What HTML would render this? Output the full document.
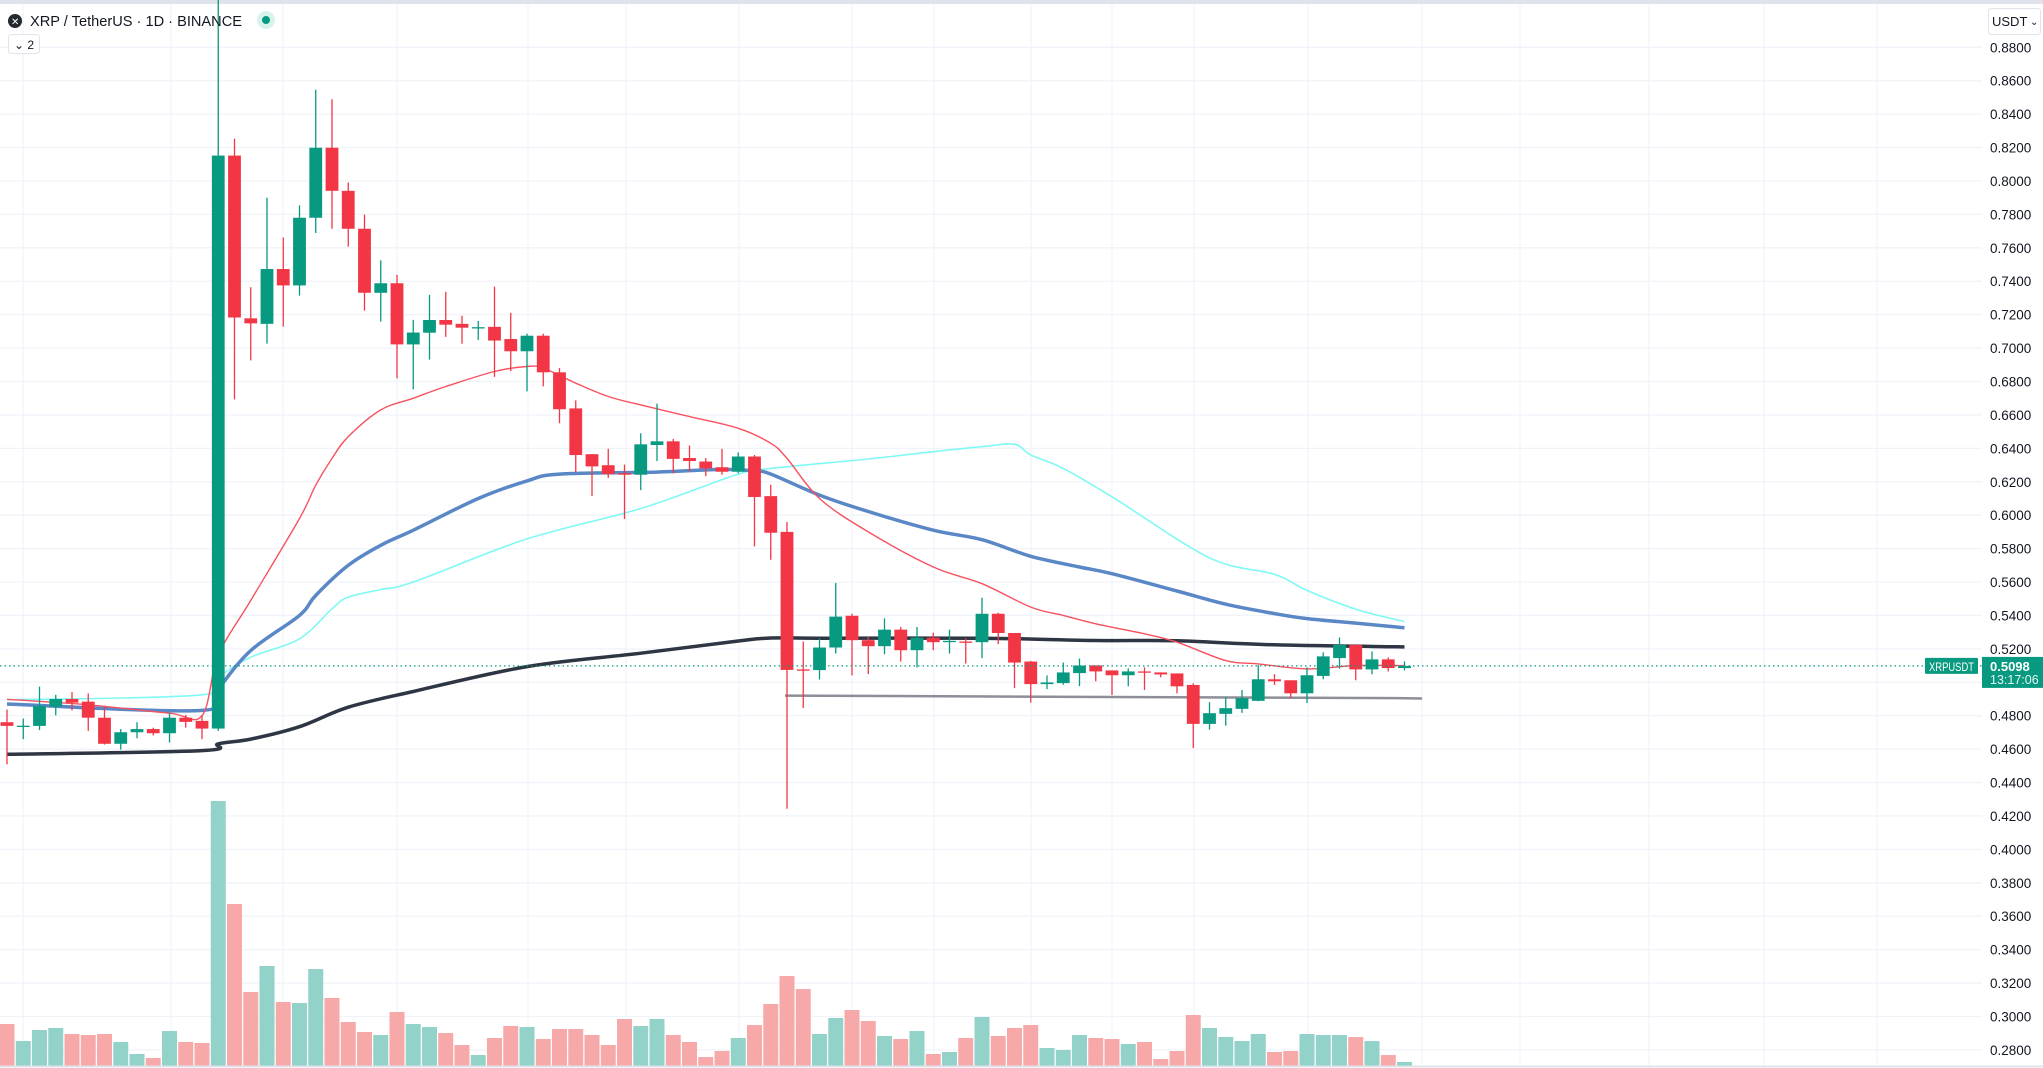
<!DOCTYPE html>
<html><head><meta charset="utf-8"><style>
html,body{margin:0;padding:0;background:#fff;overflow:hidden}
svg{display:block;font-family:"Liberation Sans",sans-serif}
</style></head><body>
<svg id="chart" width="2043" height="1068" viewBox="0 0 2043 1068" xmlns="http://www.w3.org/2000/svg">
<rect x="0" y="0" width="2043" height="1068" fill="#fff"/>
<rect x="0" y="0" width="2043" height="4" fill="#e0e3eb"/>
<g id="grid"></g>
<g id="vol"></g>
<g id="mas"></g>
<g id="candles"></g>
<g id="axis"></g>
<g>
 <circle cx="15" cy="21" r="7" fill="#23292f"/>
 <text x="11" y="25" font-size="10" fill="#fff">✕</text>
 <text x="30" y="26" font-size="15" textLength="212" lengthAdjust="spacingAndGlyphs" fill="#131722">XRP / TetherUS · 1D · BINANCE</text>
 <circle cx="266" cy="20" r="9" fill="#d9f2ee"/>
 <circle cx="266" cy="20" r="4" fill="#089981"/>
 <rect x="8.5" y="34.5" width="31" height="19" rx="3" fill="#fff" stroke="#e0e3eb"/>
 <text x="14" y="49" font-size="12" fill="#131722">⌄ 2</text>
 <rect x="1988.5" y="8.5" width="52" height="26" rx="3" fill="#fff" stroke="#e0e3eb"/>
 <text x="1992" y="26" font-size="13" fill="#131722">USDT</text>
 <text x="2030" y="25" font-size="10" fill="#131722">⌄</text>
</g>
</svg>
<script>
const opens=[0.4761,0.4739,0.4739,0.4854,0.4900,0.4884,0.4788,0.4632,0.4701,0.4720,0.4695,0.4788,0.4769,0.4723,0.8152,0.7178,0.7145,0.7473,0.7375,0.7780,0.8199,0.7941,0.7714,0.7331,0.7388,0.7022,0.7092,0.7168,0.7145,0.7120,0.7127,0.7054,0.6981,0.7074,0.6855,0.6639,0.6365,0.6299,0.6251,0.6242,0.6420,0.6442,0.6342,0.6321,0.6287,0.6260,0.6351,0.6114,0.5900,0.5077,0.5073,0.5208,0.5398,0.5252,0.5216,0.5315,0.5192,0.5267,0.5240,0.5244,0.5240,0.5410,0.5295,0.5124,0.4989,0.4995,0.5055,0.5101,0.5071,0.5042,0.5065,0.5059,0.5053,0.4984,0.4751,0.4811,0.4841,0.4889,0.5018,0.5012,0.4934,0.5038,0.5145,0.5224,0.5077,0.5137,0.5085];
const closes=[0.4739,0.4740,0.4859,0.4900,0.4878,0.4788,0.4632,0.4701,0.4720,0.4695,0.4788,0.4763,0.4723,0.8152,0.7183,0.7148,0.7473,0.7375,0.7780,0.8199,0.7941,0.7714,0.7331,0.7388,0.7022,0.7093,0.7168,0.7140,0.7122,0.7125,0.7045,0.6981,0.7074,0.6855,0.6634,0.6360,0.6292,0.6246,0.6242,0.6424,0.6442,0.6337,0.6324,0.6280,0.6260,0.6351,0.6109,0.5895,0.5074,0.5073,0.5208,0.5393,0.5252,0.5216,0.5315,0.5192,0.5267,0.5240,0.5248,0.5240,0.5410,0.5295,0.5118,0.4989,0.4999,0.5059,0.5100,0.5065,0.5042,0.5065,0.5061,0.5047,0.4976,0.4751,0.4815,0.4845,0.4905,0.5018,0.5006,0.4934,0.5042,0.5155,0.5224,0.5077,0.5137,0.5085,0.5098];
const highs=[0.4837,0.4783,0.4974,0.4925,0.4941,0.4933,0.4851,0.4720,0.4761,0.4728,0.4815,0.4805,0.4805,0.9100,0.8253,0.7364,0.7900,0.7662,0.7854,0.8546,0.8489,0.7991,0.7799,0.7525,0.7438,0.7169,0.7318,0.7337,0.7193,0.7163,0.7368,0.7211,0.7086,0.7086,0.6880,0.6687,0.6365,0.6397,0.6303,0.6490,0.6668,0.6456,0.6417,0.6342,0.6397,0.6376,0.6360,0.6182,0.5959,0.5244,0.5263,0.5595,0.5410,0.5271,0.5383,0.5331,0.5331,0.5297,0.5315,0.5263,0.5506,0.5416,0.5295,0.5128,0.5041,0.5118,0.5142,0.5101,0.5071,0.5083,0.5089,0.5059,0.5053,0.4994,0.4881,0.4910,0.4954,0.5103,0.5048,0.5012,0.5089,0.5179,0.5268,0.5224,0.5185,0.5149,0.5125];
const lows=[0.4509,0.4660,0.4714,0.4802,0.4832,0.4709,0.4627,0.4597,0.4665,0.4682,0.4640,0.4728,0.4660,0.4709,0.6693,0.6926,0.7027,0.7128,0.7314,0.7689,0.7714,0.7607,0.7224,0.7158,0.6819,0.6753,0.6931,0.7067,0.7026,0.7049,0.6828,0.6862,0.6741,0.6771,0.6550,0.6258,0.6114,0.6223,0.5977,0.6150,0.6324,0.6251,0.6262,0.6233,0.6242,0.6251,0.5813,0.5733,0.4243,0.4846,0.5017,0.5172,0.5041,0.5049,0.5168,0.5124,0.5089,0.5192,0.5172,0.5112,0.5144,0.5228,0.4965,0.4878,0.4959,0.4985,0.4977,0.5006,0.4924,0.4976,0.4954,0.5030,0.4934,0.4606,0.4716,0.4740,0.4817,0.4887,0.4984,0.4906,0.4877,0.5018,0.5081,0.5012,0.5048,0.5065,0.5071];
const volumes=[43,26,37,39,33,32,33,25,13,9,36,25,24,266,163,75,101,65,64,98,69,45,35,32,55,43,40,34,22,12,29,41,40,28,38,38,32,22,48,41,48,32,25,10,16,29,42,63,91,78,33,49,57,46,31,28,36,13,15,29,50,31,39,42,19,17,32,29,28,23,25,8,16,52,39,30,26,33,15,16,33,32,32,30,26,12,5];
const maRed=[[0,0.4898],[5,0.4865],[10,0.4815],[12,0.480],[13,0.516],[15,0.549],[18,0.598],[19,0.618],[20,0.634],[21,0.647],[23,0.663],[25,0.670],[27,0.677],[30,0.686],[32,0.689],[33,0.688],[35,0.679],[37,0.671],[39,0.666],[42,0.659],[45,0.652],[47,0.643],[48,0.634],[50,0.610],[53,0.590],[57,0.569],[60,0.559],[63,0.545],[65,0.540],[67,0.535],[70,0.529],[72,0.524],[75,0.513],[77,0.511],[80,0.508],[83,0.510],[86,0.510]];
const maBlue=[[0,0.4870],[12,0.4832],[13,0.496],[15,0.519],[18,0.540],[19,0.552],[21,0.570],[23,0.582],[25,0.591],[29,0.610],[32,0.6205],[34,0.6246],[40,0.6258],[44,0.6274],[46,0.6265],[47,0.6246],[50,0.612],[53,0.6022],[57,0.591],[60,0.5853],[63,0.5754],[66,0.569],[68,0.5650],[72,0.5546],[75,0.5467],[78,0.5411],[80,0.5381],[83,0.5354],[86,0.5326]];
const maCyan=[[0,0.4895],[12,0.4925],[13,0.503],[15,0.515],[18,0.526],[20,0.544],[21,0.551],[23,0.5555],[25,0.560],[32,0.5858],[39,0.604],[45,0.6246],[47,0.628],[53,0.6336],[57,0.638],[60,0.6410],[62,0.6424],[63,0.636],[65,0.628],[68,0.611],[74,0.5745],[78,0.5646],[80,0.555],[83,0.5437],[86,0.5363]];
const maBlack=[[0,0.4569],[12,0.4591],[13,0.4632],[15,0.466],[18,0.4734],[21,0.4851],[25,0.4945],[32,0.5094],[39,0.5174],[45,0.5247],[47,0.5265],[50,0.5264],[60,0.5263],[67,0.5250],[72,0.5248],[78,0.5224],[86,0.5212]];
const trendLine=[[48,0.4920],[86,0.4905],[87,0.4903]];
const priceTicks=[0.88,0.86,0.84,0.82,0.80,0.78,0.76,0.74,0.72,0.70,0.68,0.66,0.64,0.62,0.60,0.58,0.56,0.54,0.52,0.50,0.48,0.46,0.44,0.42,0.40,0.38,0.36,0.34,0.32,0.30,0.28];
const lastPrice=0.5098;
const vGrid=[23,171,283,397,528,626,739,852,934,1031,1112,1194,1308,1422,1520,1649,1764,1877];

const NS="http://www.w3.org/2000/svg";
const X=i=>7+i*16.25;
const Y=p=>47.3+(0.88-p)*1671;
const VBASE=1067, VY=v=>VBASE-v;
function mk(tag,attrs,parent){const e=document.createElementNS(NS,tag);for(const k in attrs)e.setAttribute(k,attrs[k]);parent.appendChild(e);return e;}
const grid=document.getElementById('grid');
priceTicks.forEach(p=>{const l=mk('line',{x1:0,x2:1982,y1:Y(p),y2:Y(p),stroke:'#f0f3fa','stroke-width':1.3},grid);

});
vGrid.forEach(x=>{const l=mk('line',{x1:x,x2:x,y1:4,y2:1066,stroke:'#f0f3fa','stroke-width':1.3},grid);

});
const vol=document.getElementById('vol');
volumes.forEach((v,i)=>{const up=closes[i]>=opens[i];const r=mk('rect',{x:X(i)-7.5,y:VY(v),width:15,height:v,fill:up?'#92d2c9':'#f7a9a9'},vol);

});
const mas=document.getElementById('mas');
function smoothPath(pts){const P=pts.map(q=>[X(q[0]),Y(q[1])]);let d='M'+P[0][0].toFixed(1)+','+P[0][1].toFixed(1);
for(let k=0;k<P.length-1;k++){const p0=P[k-1]||P[k],p1=P[k],p2=P[k+1],p3=P[k+2]||P[k+1];
const c1=[p1[0]+(p2[0]-p0[0])/6,p1[1]+(p2[1]-p0[1])/6],c2=[p2[0]-(p3[0]-p1[0])/6,p2[1]-(p3[1]-p1[1])/6];
d+='C'+c1[0].toFixed(1)+','+c1[1].toFixed(1)+' '+c2[0].toFixed(1)+','+c2[1].toFixed(1)+' '+p2[0].toFixed(1)+','+p2[1].toFixed(1);}
return d;}
function line(pts,color,w,name){
const e=mk('path',{d:smoothPath(pts),fill:'none',stroke:color,'stroke-width':w,'stroke-linejoin':'round'},mas);

}
line(maBlack,'#2f3643',3.5,'ma-black-line');
line(maCyan,'#7ff9f4',1.6,'ma-cyan-line');
line(maBlue,'#5a87c6',3.5,'ma-blue-line');
line(maRed,'#f7525f',1.4,'ma-red-line');
const tl=trendLine.map((q,k)=>(k?'L':'M')+(k==0?X(q[0])-2:k==2?1422:X(q[0])).toFixed(1)+','+Y(q[1]).toFixed(1)).join('');
const tle=mk('path',{d:tl,fill:'none',stroke:'#787b86','stroke-width':2.5,'stroke-opacity':0.85},mas);


const cg=document.getElementById('candles');
opens.forEach((o,i)=>{const c=closes[i];const up=c>=o;const col=up?'#089981':'#f23645';const x=X(i);
const w=mk('line',{x1:x,x2:x,y1:Y(highs[i]),y2:Y(lows[i]),stroke:col,'stroke-width':1.3},cg);


const top=Y(Math.max(o,c)),h=Math.max(1.3,Y(Math.min(o,c))-top);
const b=mk('rect',{x:x-6.4,y:top,width:12.8,height:h,fill:col},cg);

});
const ax=document.getElementById('axis');
const pl=mk('line',{x1:0,x2:1982,y1:Y(lastPrice),y2:Y(lastPrice),stroke:'#089981','stroke-width':1.2,'stroke-dasharray':'1.5 3'},ax);


priceTicks.forEach(p=>{const t=mk('text',{x:1990,y:Y(p)+5,'font-size':13.5,fill:'#131722'},ax);t.textContent=p.toFixed(4);

});
const ly=Y(lastPrice);
const sb=mk('rect',{x:1925,y:ly-8,width:53,height:16,fill:'#089981',rx:1},ax);


const st=mk('text',{x:1929,y:ly+5,'font-size':12,fill:'#fff',textLength:45,lengthAdjust:'spacingAndGlyphs'},ax);st.textContent='XRPUSDT';
const pb=mk('rect',{x:1982,y:ly-9,width:61,height:31,fill:'#089981'},ax);


const pt=mk('text',{x:1990,y:ly+5,'font-size':13,fill:'#fff','font-weight':'bold'},ax);pt.textContent=lastPrice.toFixed(4);
const ct=mk('text',{x:1990,y:ly+18,'font-size':12.5,fill:'#e6f5f2'},ax);ct.textContent='13:17:06';


const bl=mk('line',{x1:0,x2:2043,y1:1066.5,y2:1066.5,stroke:'#e0e3eb','stroke-width':2},ax);


</script>
</body></html>
